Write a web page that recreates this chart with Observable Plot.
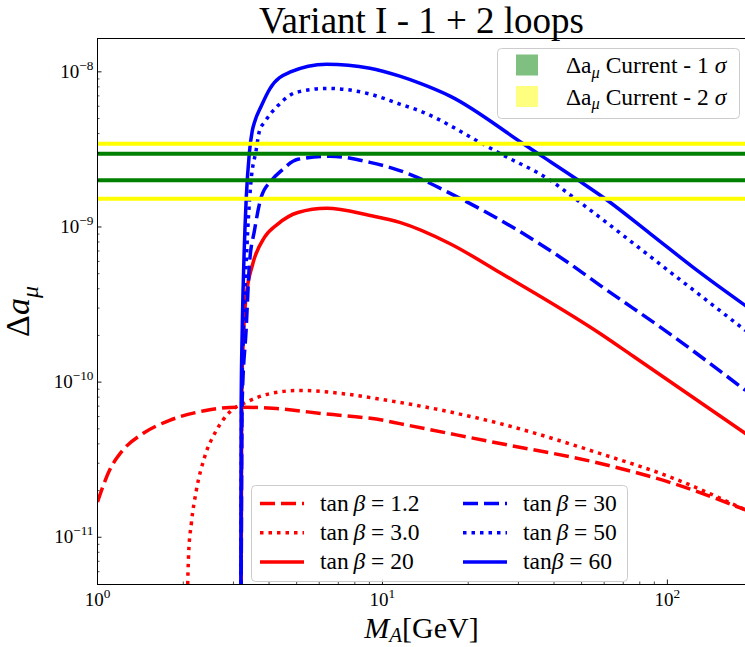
<!DOCTYPE html>
<html>
<head>
<meta charset="utf-8">
<script src="https://cdn.jsdelivr.net/npm/d3@7"></script>
<script src="https://cdn.jsdelivr.net/npm/@observablehq/plot@0.6"></script>
<style>
  body { margin: 0; background: #fff; }
  #chart { position: relative; width: 745px; height: 647px; }
</style>
</head>
<body>
<div id="chart"></div>
<script>
// ---------- data ----------
// M_A [GeV] and Δa_μ for each tan β curve
const tb12_M = [1.0, 1.102, 1.227, 1.443, 1.791, 2.345, 3.156, 4.25, 6.18, 10.07, 11.5, 25.9, 58.2, 105, 188];
const tb12_v = [1.69e-11, 2.70e-11, 3.64e-11, 4.66e-11, 5.67e-11, 6.51e-11, 6.90e-11, 6.75e-11, 6.26e-11, 5.67e-11, 5.40e-11, 4.02e-11, 2.99e-11, 2.22e-11, 1.50e-11];

const tb3_M = [2.06, 2.089, 2.135, 2.223, 2.377, 2.614, 2.911, 3.332, 4.02, 5.13, 7.28, 10.07, 11.5, 25.9, 58.2, 105, 188];
const tb3_v = [3e-12, 7.91e-12, 1.23e-11, 2.01e-11, 3.29e-11, 4.89e-11, 6.41e-11, 7.43e-11, 8.42e-11, 8.84e-11, 8.42e-11, 7.70e-11, 7.40e-11, 5.40e-11, 3.46e-11, 2.40e-11, 1.50e-11];

const tb20_M = [3.174, 3.207, 3.262, 3.322, 3.506, 3.854, 4.29, 5.05, 6.37, 9.04, 11.5, 17.27, 25.9, 58.2, 75.9, 188];
const tb20_v = [1e-13, 7.62e-11, 2.26e-10, 3.52e-10, 5.77e-10, 8.56e-10, 1.044e-9, 1.24e-9, 1.32e-9, 1.186e-9, 1.07e-9, 7.8e-10, 5.07e-10, 2.05e-10, 1.467e-10, 4.66e-11];

const tb30_M = [3.174, 3.220, 3.322, 3.414, 3.554, 3.75, 4.066, 4.41, 5.05, 6.54, 9.04, 11.5, 18.7, 44.4, 58.2, 105, 188];
const tb30_v = [1e-13, 7.62e-11, 2.15e-10, 5.77e-10, 9.45e-10, 1.547e-9, 1.98e-9, 2.30e-9, 2.73e-9, 2.86e-9, 2.61e-9, 2.31e-9, 1.53e-9, 5.97e-10, 4.19e-10, 1.97e-10, 8.84e-11];

const tb50_M = [3.174, 3.207, 3.287, 3.367, 3.458, 3.600, 3.702, 3.86, 4.29, 5.01, 6.43, 9.04, 11.5, 13.5, 22.4, 25.9, 38.8, 47.5, 100.8, 188];
const tb50_v = [1e-13, 7.62e-11, 3.35e-10, 9.45e-10, 1.98e-9, 3.09e-9, 4.16e-9, 4.75e-9, 6.04e-9, 7.4e-9, 7.82e-9, 7.19e-9, 6.2e-9, 5.61e-9, 3.44e-9, 2.97e-9, 2.0e-9, 1.52e-9, 5.23e-10, 2.15e-10];

const tb60_M = [3.174, 3.194, 3.220, 3.262, 3.327, 3.409, 3.492, 3.56, 3.76, 4.02, 4.73, 6.37, 9.04, 11.5, 13.5, 17.27, 31.2, 35.2, 48.7, 60.5, 87.2, 127.5, 188];
const tb60_v = [1e-13, 7.62e-11, 2.15e-10, 5.80e-10, 1.54e-9, 2.96e-9, 4.16e-9, 4.75e-9, 6.04e-9, 7.74e-9, 9.95e-9, 1.12e-8, 1.056e-8, 9.38e-9, 8.46e-9, 6.98e-9, 3.44e-9, 2.97e-9, 2.0e-9, 1.52e-9, 9.04e-10, 5.23e-10, 3.11e-10];

// experimental bands (horizontal lines)
const band2sigma = [1.52e-9, 3.44e-9];
const band1sigma = [2.00e-9, 2.97e-9];

// axes
const xDomain = [1, 188];
const yDomain = [4.96e-12, 1.64e-8];
const xMajor = [1, 10, 100];
const xMajorLabels = ["10^{0}", "10^{1}", "10^{2}"];
const xMinor = [2, 3, 4, 5, 6, 7, 8, 9, 20, 30, 40, 50, 60, 70, 80, 90];
const yMajor = [1e-11, 1e-10, 1e-9, 1e-8];
const yMajorLabels = ["10^{−11}", "10^{−10}", "10^{−9}", "10^{−8}"];
const yMinor = [6e-12, 7e-12, 8e-12, 9e-12,
  2e-11, 3e-11, 4e-11, 5e-11, 6e-11, 7e-11, 8e-11, 9e-11,
  2e-10, 3e-10, 4e-10, 5e-10, 6e-10, 7e-10, 8e-10, 9e-10,
  2e-9, 3e-9, 4e-9, 5e-9, 6e-9, 7e-9, 8e-9, 9e-9];

const titleText = "Variant I - 1 + 2 loops";
const xLabelText = "M_A[GeV]";
const yLabelText = "Δa_μ";

// ---------- build ----------
const RED = "#ff0000", BLUE = "#0000ff", GREEN = "#008000", YELLOW = "#ffff00";
const DASH = "15,6", DOT = "3.5,5";

const seriesDefs = [
  {key: "1.2", color: RED, dash: DASH, M: tb12_M, v: tb12_v, label: [{t:"tan"},{t:"\u2009"},{t:"β", it:1},{t:" = 1.2"}]},
  {key: "3.0", color: RED, dash: DOT, M: tb3_M, v: tb3_v, label: [{t:"tan"},{t:"\u2009"},{t:"β", it:1},{t:" = 3.0"}]},
  {key: "20", color: RED, dash: null, M: tb20_M, v: tb20_v, label: [{t:"tan"},{t:"\u2009"},{t:"β", it:1},{t:" = 20"}]},
  {key: "30", color: BLUE, dash: DASH, M: tb30_M, v: tb30_v, label: [{t:"tan"},{t:"\u2009"},{t:"β", it:1},{t:" = 30"}]},
  {key: "50", color: BLUE, dash: DOT, M: tb50_M, v: tb50_v, label: [{t:"tan"},{t:"\u2009"},{t:"β", it:1},{t:" = 50"}]},
  {key: "60", color: BLUE, dash: null, M: tb60_M, v: tb60_v, label: [{t:"tan"},{t:"β", it:1},{t:" = 60"}]}
];
const rows = seriesDefs.flatMap(s => s.M.map((m, i) => ({series: s.key, M: m, v: s.v[i]})));

const hLines = [
  {v: band2sigma[1], color: YELLOW},
  {v: band2sigma[0], color: YELLOW},
  {v: band1sigma[1], color: GREEN},
  {v: band1sigma[0], color: GREEN}
];

const xLab = new Map(xMajor.map((t, i) => [t, xMajorLabels[i]]));
const yLab = new Map(yMajor.map((t, i) => [t, yMajorLabels[i]]));

const plot = Plot.plot({
  width: 745,
  height: 647,
  marginLeft: 97,
  marginRight: 0,
  marginTop: 38,
  marginBottom: 63,
  style: {fontFamily: "'Liberation Serif', serif", fontSize: "19px", background: "#fff", overflow: "visible"},
  x: {type: "log", domain: xDomain, axis: null, label: null},
  y: {type: "log", domain: yDomain, axis: null, label: null},
  marks: [
    ...seriesDefs.map(s => Plot.line(rows.filter(r => r.series === s.key), {
      x: "M", y: "v", stroke: s.color, strokeWidth: 3.5,
      strokeDasharray: s.dash || undefined,
      strokeLinecap: s.dash ? "butt" : "round",
      curve: "monotone-x", clip: true
    })),
    Plot.ruleY(hLines, {y: "v", stroke: "color", strokeWidth: 4}),
    // spines
    Plot.ruleX([xDomain[0]], {stroke: "#000", strokeWidth: 1}),
    Plot.ruleY([yDomain[0]], {stroke: "#000", strokeWidth: 1}),
    Plot.ruleY([yDomain[1]], {stroke: "#000", strokeWidth: 1}),
    // inward ticks
    Plot.axisX(xMajor, {tickSize: -4.5, tickFormat: () => "", strokeWidth: 0.9}),
    Plot.axisX(xMinor, {tickSize: -2.5, tickFormat: () => "", strokeWidth: 0.7}),
    Plot.axisY(yMajor, {tickSize: -4.5, tickFormat: () => "", strokeWidth: 0.9}),
    Plot.axisY(yMinor, {tickSize: -2.5, tickFormat: () => "", strokeWidth: 0.7}),
    // tick labels
    Plot.axisX(xMajor, {tickSize: 0, tickPadding: 8, fontSize: 19, tickFormat: d => xLab.get(d)}),
    Plot.axisY(yMajor, {tickSize: 0, tickPadding: 4, fontSize: 19, tickFormat: d => yLab.get(d)}),
    // title and axis labels
    Plot.text([titleText], {text: d => d, frameAnchor: "top", lineAnchor: "middle", textAnchor: "middle", dy: -16.9, fontSize: 37}),
    Plot.text([xLabelText], {text: d => d, frameAnchor: "bottom", lineAnchor: "middle", textAnchor: "middle", dy: 43.4, fontSize: 30}),
    Plot.text([yLabelText], {text: d => d, frameAnchor: "left", lineAnchor: "middle", textAnchor: "middle", rotate: -90, dx: -79, fontSize: 34})
  ]
});

document.getElementById("chart").appendChild(plot);

// ---------- rich text (sub/superscripts, italics) ----------
function richify(el, parts, subShift = 0.26) {
  const basePx = parseFloat(getComputedStyle(el).fontSize) || 19;
  const sel = d3.select(el);
  sel.text(null);
  let shift = 0;
  for (const p of parts) {
    const target = p.sup ? -0.42 * basePx : p.sub ? subShift * basePx : 0;
    const ts = sel.append("tspan").text(p.t);
    if (p.it) ts.attr("font-style", "italic");
    if (p.sup || p.sub) ts.attr("font-size", (0.7 * basePx) + "px");
    if (target !== shift) ts.attr("dy", target - shift);
    shift = target;
  }
}
d3.select(plot).selectAll("text").each(function() {
  const s = this.textContent;
  if (s === xLabelText) { richify(this, [{t:"M", it:1},{t:"A", it:1, sub:1},{t:"[GeV]"}], 0.15); return; }
  if (s === yLabelText) { richify(this, [{t:"Δ"},{t:"a", it:1},{t:"μ", it:1, sub:1}], 0.24); return; }
  const m = /^(.*)\^\{(.*)\}$/.exec(s);
  if (m) richify(this, [{t: m[1]}, {t: m[2], sup: 1}]);
});

// ---------- legends ----------
const svg = d3.select(plot);

// band legend (top right)
const lg1 = svg.append("g").attr("font-family", "'Liberation Serif', serif").attr("font-size", 23.5).attr("text-anchor", "start");
lg1.append("rect").attr("x", 497.5).attr("y", 48.5).attr("width", 242).attr("height", 70).attr("rx", 4)
  .attr("fill", "#fff").attr("fill-opacity", 0.8).attr("stroke", "#cccccc");
const bandEntries = [
  {color: "rgb(127,191,127)", parts: [{t:"Δa"},{t:"μ", it:1, sub:1},{t:" Current - 1 "},{t:"σ", it:1}]},
  {color: "rgb(255,255,127)", parts: [{t:"Δa"},{t:"μ", it:1, sub:1},{t:" Current - 2 "},{t:"σ", it:1}]}
];
bandEntries.forEach((e, i) => {
  const cy = 65 + i * 31.5;
  lg1.append("rect").attr("x", 516).attr("y", cy - 10.5).attr("width", 22).attr("height", 21).attr("fill", e.color);
  const t = lg1.append("text").attr("x", 566).attr("y", cy + 8).attr("text-anchor", "start");
  richify(t.node(), e.parts, 0.2);
});

// curve legend (bottom)
const lg2 = svg.append("g").attr("font-family", "'Liberation Serif', serif").attr("font-size", 23.5).attr("text-anchor", "start");
lg2.append("rect").attr("x", 251.5).attr("y", 485.5).attr("width", 376).attr("height", 96).attr("rx", 4)
  .attr("fill", "#fff").attr("fill-opacity", 0.8).attr("stroke", "#cccccc");
seriesDefs.forEach((s, i) => {
  const col = Math.floor(i / 3), row = i % 3;
  const lx = col === 0 ? 260 : 463;
  const tx = col === 0 ? 320 : 523;
  const cy = 503.5 + row * 29.2;
  lg2.append("line").attr("x1", lx).attr("x2", lx + 44).attr("y1", cy).attr("y2", cy)
    .attr("stroke", s.color).attr("stroke-width", 3.5)
    .attr("stroke-dasharray", s.dash)
    .attr("stroke-linecap", "butt");
  const t = lg2.append("text").attr("x", tx).attr("y", cy + 7.5).attr("text-anchor", "start");
  richify(t.node(), s.label);
});
</script>
</body>
</html>
